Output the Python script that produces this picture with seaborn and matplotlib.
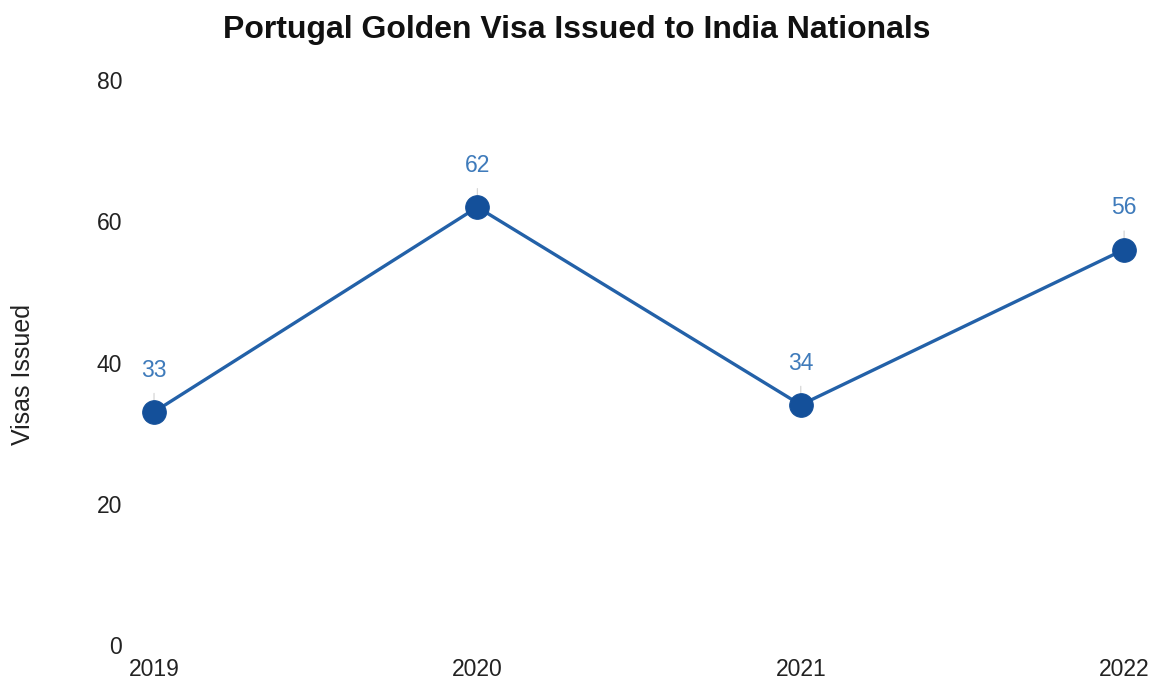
import matplotlib
matplotlib.use("Agg")
import matplotlib.pyplot as plt
import seaborn as sns
import pandas as pd

years = [2019, 2020, 2021, 2022]
visas = [33, 62, 34, 56]
title = "Portugal Golden Visa Issued to India Nationals"
ylabel = "Visas Issued"
yticks = [0, 20, 40, 60, 80]

sns.set_theme(style="white")
plt.rcParams['font.family'] = ['Liberation Sans', 'DejaVu Sans']

df = pd.DataFrame({"year": years, "visas": visas})

fig = plt.figure(figsize=(11.59, 6.84), dpi=100)
ax = fig.add_axes([0.1329, 0.057, 0.837, 0.826])

line_color = "#2361a8"
sns.lineplot(data=df, x="year", y="visas", ax=ax, color=line_color, linewidth=2.4,
             marker="o", markersize=17, markerfacecolor="#14509a",
             markeredgecolor="#14509a", clip_on=False)

for x, y in zip(years, visas):
    ax.annotate(str(y), xy=(x, y), xytext=(0, 30), textcoords="offset points",
                ha="center", va="center", fontsize=16.5, color="#3f7bbb",
                arrowprops=dict(arrowstyle="-", color="#d6d6d6", lw=0.9,
                                shrinkA=6, shrinkB=6), zorder=1)

ax.set_xlim(2019, 2022)
ax.set_ylim(0, 80)
ax.set_xticks(years)
ax.set_xticklabels([str(y) for y in years])
ax.set_yticks(yticks)
ax.tick_params(axis="y", labelsize=16.5, pad=23, colors="#222222", length=0)
ax.tick_params(axis="x", labelsize=16.5, pad=9, colors="#222222", length=0)
ax.set_xlabel("")
ax.set_ylabel(ylabel, fontsize=18, color="#222222")
ax.yaxis.set_label_coords(-0.1227, 0.478)
for s in ax.spines.values():
    s.set_visible(False)
ax.grid(False)

fig.suptitle(title, fontsize=23, fontweight="bold", color="#111111", x=0.498, y=0.978)

fig.savefig("out.png", dpi=100)
